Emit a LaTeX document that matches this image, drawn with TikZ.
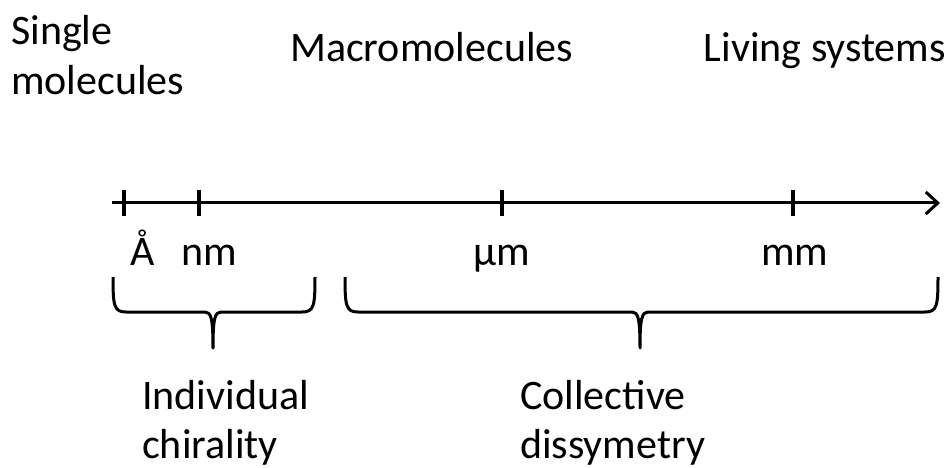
\documentclass[tikz,border=0pt]{standalone}
\usepackage{fontspec}
\setmainfont{Carlito}
\usetikzlibrary{arrows.meta}
\tikzset{
  lbl/.style={inner sep=0pt, font=\fontsize{42}{50}\selectfont, anchor=base west},
  thick line/.style={line width=3pt, black},
  tickmark/.style={line width=3.5pt, black},
}
\begin{document}
\begin{tikzpicture}[x=1pt, y=-1pt]
  \useasboundingbox (0,0) rectangle (951,468);
  % headings
  \node[lbl] (single1) at (11,45) {Single};
  \node[lbl] (single2) at (11,95) {molecules};
  \node[lbl] (macro) at (290,62) {Macromolecules};
  \node[lbl, anchor=base east] (living) at (946,62) {Living systems};
  % scale axis
  \coordinate (axstart) at (112,203);
  \coordinate (axend) at (940,203);
  \draw[thick line, -{Straight Barb[length=12pt, width=22pt, line width=3pt]}] (axstart) -- (axend);
  \foreach \n/\x in {a/124, b/199, c/502, d/793} {
    \coordinate (t\n) at (\x,203);
    \draw[tickmark] ([yshift=-13pt]t\n) -- ([yshift=13pt]t\n);
  }
  % unit labels
  \node[lbl] (ang) at (130,265) {Å};
  \node[lbl] (nm) at (181,265) {nm};
  \node[lbl] (um) at (473,265) {μm};
  \node[lbl] (mm) at (761,265) {mm};
  % braces
  \draw[thick line, line join=round]
    (113,277) .. controls (113,306) and (114,312) .. (126,312)
    -- (205,312) .. controls (211,312) and (213,318) .. (213,348)
    .. controls (213,318) and (215,312) .. (221,312)
    -- (302,312) .. controls (314,312) and (315,306) .. (315,277);
  \draw[thick line, line join=round]
    (345,277) .. controls (345,306) and (346,312) .. (358,312)
    -- (632,312) .. controls (638,312) and (640,318) .. (640,348)
    .. controls (640,318) and (642,312) .. (648,312)
    -- (925,312) .. controls (937,312) and (938,306) .. (938,277);
  % group names
  \node[lbl] (indiv1) at (142,409) {Individual};
  \node[lbl] (indiv2) at (142,458) {chirality};
  \node[lbl] (coll1) at (520,409) {Collective};
  \node[lbl] (coll2) at (520,458) {dissymetry};
\end{tikzpicture}
\end{document}
